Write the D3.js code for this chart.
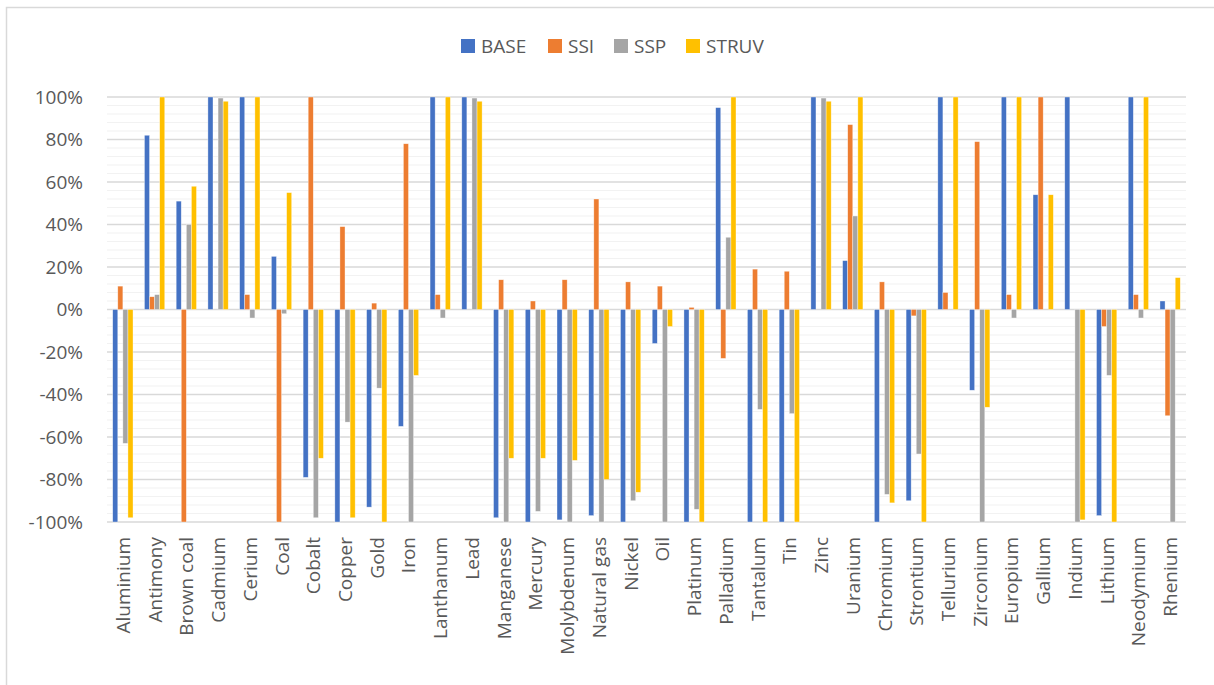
<!DOCTYPE html>
<html>
<head>
<meta charset="utf-8">
<script src="https://cdn.jsdelivr.net/npm/d3@7"></script>
<style>
  html, body { margin: 0; padding: 0; background: #fff; }
  svg { display: block; font-family: "Open Sans", "Noto Sans", sans-serif; }
</style>
</head>
<body>
<svg id="chart" width="1214" height="685"></svg>
<script>
// Categories (materials) and per-scenario relative changes, in percent
const categories = ["Aluminium", "Antimony", "Brown coal", "Cadmium", "Cerium", "Coal", "Cobalt",
  "Copper", "Gold", "Iron", "Lanthanum", "Lead", "Manganese", "Mercury", "Molybdenum",
  "Natural gas", "Nickel", "Oil", "Platinum", "Palladium", "Tantalum", "Tin", "Zinc",
  "Uranium", "Chromium", "Strontium", "Tellurium", "Zirconium", "Europium", "Gallium",
  "Indium", "Lithium", "Neodymium", "Rhenium"];

const seriesNames = ["BASE", "SSI", "SSP", "STRUV"];

const BASE  = [-100, 82, 51, 100, 100, 25, -79, -100, -93, -55, 100, 100, -98, -100, -99,
  -97, -100, -16, -100, 95, -100, -100, 100, 23, -100, -90, 100, -38, 100, 54, 100, -97, 100, 4];
const SSI   = [11, 6, -100, 0, 7, -100, 100, 39, 3, 78, 7, 0, 14, 4, 14,
  52, 13, 11, 1, -23, 19, 18, 0, 87, 13, -3, 8, 79, 7, 100, 0, -8, 7, -50];
const SSP   = [-63, 7, 40, 99.5, -4, -2, -98, -53, -37, -100, -4, 99.5, -100, -95, -100,
  -100, -90, -100, -94, 34, -47, -49, 99.5, 44, -87, -68, 0, -100, -4, 0, -100, -31, -4, -100];
const STRUV = [-98, 100, 58, 98, 100, 55, -70, -98, -100, -31, 100, 98, -70, -70, -71,
  -80, -86, -8, -100, 100, -100, -100, 98, 100, -91, -100, 100, -46, 100, 54, -99, -100, 100, 15];

const yTicks = [-100, -80, -60, -40, -20, 0, 20, 40, 60, 80, 100];
const colors = ["#4472C4", "#ED7D31", "#A5A5A5", "#FFC000"];

const seriesValues = [BASE, SSI, SSP, STRUV];
const rows = categories.map((c, i) => ({
  category: c,
  values: seriesNames.map((s, k) => ({ key: s, value: seriesValues[k][i] }))
}));

const svg = d3.select("#chart");
const margin = { left: 107, right: 28, top: 97, bottom: 162 };
const W = 1214, H = 685;
const textColor = "#595959";

// Chart frame
svg.append("rect")
  .attr("x", 6.5).attr("y", 7.5)
  .attr("width", W + 10).attr("height", H + 10)
  .attr("fill", "#fff").attr("stroke", "#d9d9d9").attr("stroke-width", 1.5);

const x0 = d3.scaleBand()
  .domain(categories)
  .range([margin.left, W - margin.right])
  .paddingInner(0).paddingOuter(0);

const step = x0.step();
const groupGap = step * 0.18;
const x1 = d3.scaleBand()
  .domain(seriesNames)
  .range([groupGap, step - groupGap]);

const y = d3.scaleLinear()
  .domain([-100, 100])
  .range([H - margin.bottom - 0.5 + 0.5 - 1, margin.top]);

// Minor gridlines every 4%
const minor = d3.range(-100, 101, 4).filter(v => v % 20 !== 0);
svg.append("g").selectAll("line").data(minor).join("line")
  .attr("x1", margin.left).attr("x2", W - margin.right)
  .attr("y1", d => y(d)).attr("y2", d => y(d))
  .attr("stroke", "#f2f2f2").attr("stroke-width", 1.2);

// Major gridlines
svg.append("g").selectAll("line").data(yTicks).join("line")
  .attr("x1", margin.left).attr("x2", W - margin.right)
  .attr("y1", d => y(d)).attr("y2", d => y(d))
  .attr("stroke", "#d9d9d9").attr("stroke-width", 1.5);

// Y axis labels
const yAxis = d3.axisLeft(y).tickValues(yTicks).tickSize(0).tickPadding(0)
  .tickFormat(d => d + "%");
const gy = svg.append("g").attr("transform", `translate(${margin.left - 24},0)`).call(yAxis);
gy.select(".domain").remove();
gy.selectAll("text").attr("fill", textColor).attr("font-size", 19)
  .attr("font-family", "'Open Sans', sans-serif");

// Bars
const groups = svg.append("g").selectAll("g").data(rows).join("g")
  .attr("transform", d => `translate(${x0(d.category)},0)`);

groups.selectAll("rect").data(d => d.values).join("rect")
  .attr("x", d => x1(d.key))
  .attr("width", x1.bandwidth())
  .attr("y", d => y(Math.max(0, d.value)))
  .attr("height", d => Math.abs(y(d.value) - y(0)))
  .attr("fill", (d, i) => colors[i])
  .attr("stroke", "#ffffff").attr("stroke-opacity", 0.6).attr("stroke-width", 0.6);

// Category labels, rotated
const xAxis = d3.axisBottom(x0).tickSize(0).tickPadding(0);
const gx = svg.append("g").attr("transform", `translate(0,${y(-100)})`).call(xAxis);
gx.select(".domain").remove();
gx.selectAll("text")
  .attr("fill", textColor).attr("font-size", 19)
  .attr("font-family", "'Open Sans', sans-serif")
  .attr("text-anchor", "end")
  .attr("dy", null)
  .attr("transform", "translate(0,15) rotate(-90)")
  .attr("x", 0).attr("y", 0)
  .attr("dominant-baseline", "central");

// Legend
const legendX = [461, 548, 614, 686];
const legend = svg.append("g").selectAll("g").data(seriesNames).join("g")
  .attr("transform", (d, i) => `translate(${legendX[i]},39)`);
legend.append("rect").attr("width", 14).attr("height", 14)
  .attr("fill", (d, i) => colors[i]);
legend.append("text").attr("x", 20).attr("y", 7)
  .attr("dominant-baseline", "central")
  .attr("fill", textColor).attr("font-size", 19)
  .text(d => d);
</script>
</body>
</html>
